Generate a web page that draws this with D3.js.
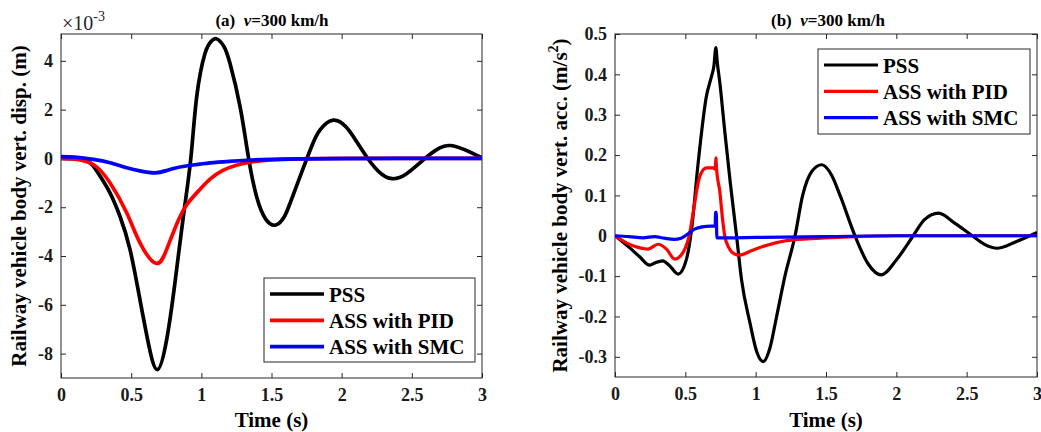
<!DOCTYPE html>
<html>
<head>
<meta charset=utf-8>
<style>
body {margin: 0; background: #fff;}
svg text {font-family: 'Liberation Serif', 'Times New Roman', serif; font-weight: bold; fill: #000;}
.title {white-space: pre;}
</style>
</head>
<body>
<svg id=chart width=1041 height=432></svg>

<script src='https://cdn.jsdelivr.net/npm/d3@7/dist/d3.min.js'></script>
<script>
//shared time axis and series info
var timeTicks = [0, 0.5, 1, 1.5, 2, 2.5, 3];
var seriesNames = ['PSS', 'ASS with PID', 'ASS with SMC'];
var seriesColors = ['#000000', '#ff0000', '#0000ff'];
var serif = "'Liberation Serif', 'Times New Roman', serif";

//(a) body vertical displacement, units of 1e-3 m
var dispTicks = [-8, -6, -4, -2, 0, 2, 4];
var dispPssT = [0, 0.08, 0.159, 0.22, 0.278, 0.349, 0.42, 0.492, 0.563, 0.622, 0.686, 0.753, 0.812, 0.872, 0.925, 0.967, 1.026, 1.07, 1.109, 1.16, 1.204, 1.276, 1.335, 1.394, 1.46, 1.53, 1.59, 1.632, 1.69, 1.739, 1.79, 1.846, 1.94, 2.03, 2.1, 2.18, 2.27, 2.36, 2.46, 2.58, 2.68, 2.77, 2.88, 3.0];
var dispPss  = [0, -0.01, -0.04, -0.25, -0.72, -1.41, -2.37, -3.74, -5.8, -7.56, -8.66, -7.43, -5.1, -2.37, 0, 2.53, 4.3, 4.8, 4.9, 4.6, 3.9, 2.12, 0.07, -1.57, -2.5, -2.73, -2.4, -1.84, -0.95, -0.2, 0.55, 1.17, 1.57, 1.3, 0.75, 0.05, -0.57, -0.83, -0.64, -0.07, 0.37, 0.53, 0.35, 0.02];
var dispPidT = [0, 0.1, 0.23, 0.349, 0.468, 0.563, 0.677, 0.753, 0.824, 0.896, 0.99, 1.062, 1.15, 1.25, 1.35, 1.5, 1.7, 2.0, 2.5, 3.0];
var dispPid  = [0, -0.03, -0.25, -1.0, -2.23, -3.46, -4.3, -3.73, -2.7, -1.9, -1.27, -0.85, -0.5, -0.28, -0.15, -0.06, -0.02, 0, 0, 0];
var dispSmcT = [0, 0.1, 0.23, 0.35, 0.468, 0.57, 0.67, 0.75, 0.824, 0.94, 1.062, 1.2, 1.35, 1.5, 1.7, 2.0, 2.5, 3.0];
var dispSmc  = [0.07, 0.05, -0.04, -0.18, -0.38, -0.52, -0.59, -0.5, -0.38, -0.27, -0.18, -0.12, -0.07, -0.04, -0.02, -0.01, 0, 0];

//(b) body vertical acceleration, m/s^2
var accTicks = [-0.3, -0.2, -0.1, 0, 0.1, 0.2, 0.3, 0.4, 0.5];
var accPssT = [0, 0.105, 0.175, 0.247, 0.29, 0.34, 0.39, 0.449, 0.508, 0.544, 0.591, 0.65, 0.686, 0.703, 0.717, 0.727, 0.745, 0.78, 0.82, 0.864, 0.9, 0.959, 1.01, 1.054, 1.1, 1.149, 1.208, 1.28, 1.334, 1.4, 1.47, 1.54, 1.6, 1.706, 1.8, 1.892, 2.0, 2.12, 2.2, 2.3, 2.42, 2.54, 2.63, 2.715, 2.85, 3.0];
var accPss  = [0, -0.03, -0.052, -0.073, -0.066, -0.062, -0.075, -0.095, -0.058, 0.015, 0.18, 0.346, 0.395, 0.42, 0.466, 0.43, 0.38, 0.26, 0.13, 0, -0.11, -0.215, -0.29, -0.312, -0.28, -0.2, -0.1, 0, 0.1, 0.16, 0.176, 0.15, 0.1, 0, -0.07, -0.097, -0.06, 0, 0.04, 0.056, 0.03, 0, -0.022, -0.031, -0.015, 0.008];
var accPidT = [0, 0.128, 0.235, 0.306, 0.366, 0.425, 0.484, 0.532, 0.555, 0.603, 0.65, 0.698, 0.712, 0.717, 0.722, 0.745, 0.765, 0.78, 0.81, 0.85, 0.888, 0.95, 1.03, 1.22, 1.46, 1.7, 2.0, 3.0];
var accPid  = [0, -0.025, -0.033, -0.021, -0.033, -0.058, -0.041, 0.008, 0.056, 0.147, 0.168, 0.168, 0.165, 0.193, 0.165, 0.11, 0.04, 0, -0.03, -0.045, -0.048, -0.04, -0.029, -0.012, -0.006, -0.002, 0, 0];
var accSmcT = [0, 0.1, 0.2, 0.28, 0.35, 0.42, 0.47, 0.52, 0.57, 0.62, 0.68, 0.712, 0.715, 0.72, 0.724, 0.8, 1.0, 1.5, 2.0, 3.0];
var accSmc  = [0, -0.002, -0.005, -0.002, -0.006, -0.009, -0.006, 0.005, 0.017, 0.022, 0.024, 0.024, 0.058, 0.058, -0.005, -0.005, -0.004, -0.002, 0, 0];

var svg = d3.select('#chart');
svg.append('rect').attr('width', 1041).attr('height', 432).attr('fill', '#fff');

function zip(t, v){
  return t.map(function(d, i){ return [d, v[i]]; });
}

function drawPanel(p){
  var g = svg.append('g');
  var x = d3.scaleLinear().domain([0, 3]).range([p.left, p.right]);
  var y = d3.scaleLinear().domain(p.yDomain).range([p.bottom, p.top]);

  g.append('clipPath').attr('id', p.id + '-clip')
    .append('rect')
      .attr('x', p.left).attr('y', p.top)
      .attr('width', p.right - p.left).attr('height', p.bottom - p.top);

  //axes with inward ticks on all four sides (matlab box on)
  var fmt = function(d){ return String(d); };
  g.append('g').attr('transform', 'translate(0,' + p.bottom + ')')
      .call(d3.axisBottom(x).tickValues(timeTicks).tickFormat(fmt).tickSizeInner(-5).tickSizeOuter(0).tickPadding(10));
  g.append('g').attr('transform', 'translate(0,' + p.top + ')')
      .call(d3.axisTop(x).tickValues(timeTicks).tickFormat('').tickSizeInner(-5).tickSizeOuter(0));
  g.append('g').attr('transform', 'translate(' + p.left + ',0)')
      .call(d3.axisLeft(y).tickValues(p.ticks).tickFormat(fmt).tickSizeInner(-5).tickSizeOuter(0).tickPadding(8));
  g.append('g').attr('transform', 'translate(' + p.right + ',0)')
      .call(d3.axisRight(y).tickValues(p.ticks).tickFormat('').tickSizeInner(-5).tickSizeOuter(0));
  g.selectAll('.domain').remove();
  g.selectAll('.tick line').attr('stroke', '#262626');
  g.selectAll('.tick text')
      .style('font-family', serif)
      .style('font-size', '18px')
      .style('font-weight', 'bold')
      .style('fill', '#1a1a1a');

  g.append('rect')
      .attr('x', p.left).attr('y', p.top)
      .attr('width', p.right - p.left).attr('height', p.bottom - p.top)
      .attr('fill', 'none').attr('stroke', '#262626').attr('stroke-width', 1);

  //curves
  var line = d3.line()
      .x(function(d){ return x(d[0]); })
      .y(function(d){ return y(d[1]); })
      .curve(p.curve);
  var lines = g.append('g').attr('clip-path', 'url(#' + p.id + '-clip)');
  p.series.forEach(function(s, i){
    lines.append('path')
        .attr('d', line(s))
        .attr('fill', 'none')
        .attr('stroke', seriesColors[i])
        .attr('stroke-width', p.lineWidth)
        .attr('stroke-linejoin', 'round');
  });

  //legend
  var lg = g.append('g');
  lg.append('rect')
      .attr('x', p.legend.x).attr('y', p.legend.y)
      .attr('width', p.legend.w).attr('height', p.legend.h)
      .attr('fill', '#fff').attr('stroke', '#262626').attr('stroke-width', 1);
  seriesNames.forEach(function(name, i){
    var ly = p.legend.y + 16 + i * 26.3;
    lg.append('line')
        .attr('x1', p.legend.x + 6).attr('x2', p.legend.x + 60)
        .attr('y1', ly).attr('y2', ly)
        .attr('stroke', seriesColors[i]).attr('stroke-width', p.lineWidth);
    lg.append('text')
        .attr('x', p.legend.x + 65).attr('y', ly + 7.5)
        .attr('font-size', 21)
        .text(name);
  });

  //titles
  var title = g.append('text').attr('class', 'title')
      .attr('x', p.titleX).attr('y', 26)
      .attr('text-anchor', 'middle')
      .attr('font-size', 17);
  title.append('tspan').text(p.tag + '  ');
  title.append('tspan').attr('font-style', 'italic').text('v');
  title.append('tspan').text('=300 km/h');

  g.append('text')
      .attr('x', (p.left + p.right) / 2).attr('y', 427)
      .attr('text-anchor', 'middle')
      .attr('font-size', 21)
      .text('Time (s)');

  var yl = g.append('text')
      .attr('transform', 'translate(' + p.ylabelX + ',' + ((p.top + p.bottom) / 2) + ') rotate(-90)')
      .attr('text-anchor', 'middle')
      .attr('font-size', 21);
  yl.append('tspan').text(p.ylabel);
  if(p.ylabelSup){
    yl.append('tspan').attr('font-size', 14).attr('dy', -9).text(p.ylabelSup);
    yl.append('tspan').attr('dy', 9).text(')');
  }
  return g;
}

drawPanel({
  id: 'a', tag: '(a)', left: 61, right: 482, top: 34, bottom: 378,
  yDomain: [-9, 5.1], ticks: dispTicks, lineWidth: 3.7,
  curve: d3.curveNatural,
  series: [zip(dispPssT, dispPss), zip(dispPidT, dispPid), zip(dispSmcT, dispSmc)],
  legend: {x: 264, y: 278, w: 211, h: 84},
  titleX: 272, ylabelX: 26,
  ylabel: 'Railway vehicle body vert. disp. (m)'
});

//exponent label above the displacement axis
var expo = svg.append('text')
    .attr('x', 62).attr('y', 30)
    .style('font-size', '20px')
    .style('font-weight', 'normal')
    .style('fill', '#262626');
expo.append('tspan').text('\u00d710');
expo.append('tspan').style('font-size', '14px').attr('dy', -9).text('-3');

drawPanel({
  id: 'b', tag: '(b)', left: 615, right: 1037, top: 34, bottom: 377,
  yDomain: [-0.35, 0.5], ticks: accTicks, lineWidth: 3.2,
  curve: d3.curveMonotoneX,
  series: [zip(accPssT, accPss), zip(accPidT, accPid), zip(accSmcT, accSmc)],
  legend: {x: 818, y: 49, w: 212, h: 85},
  titleX: 828, ylabelX: 567,
  ylabel: 'Railway vehicle body vert. acc. (m/s', ylabelSup: '2'
});
</script>
</body>
</html>
